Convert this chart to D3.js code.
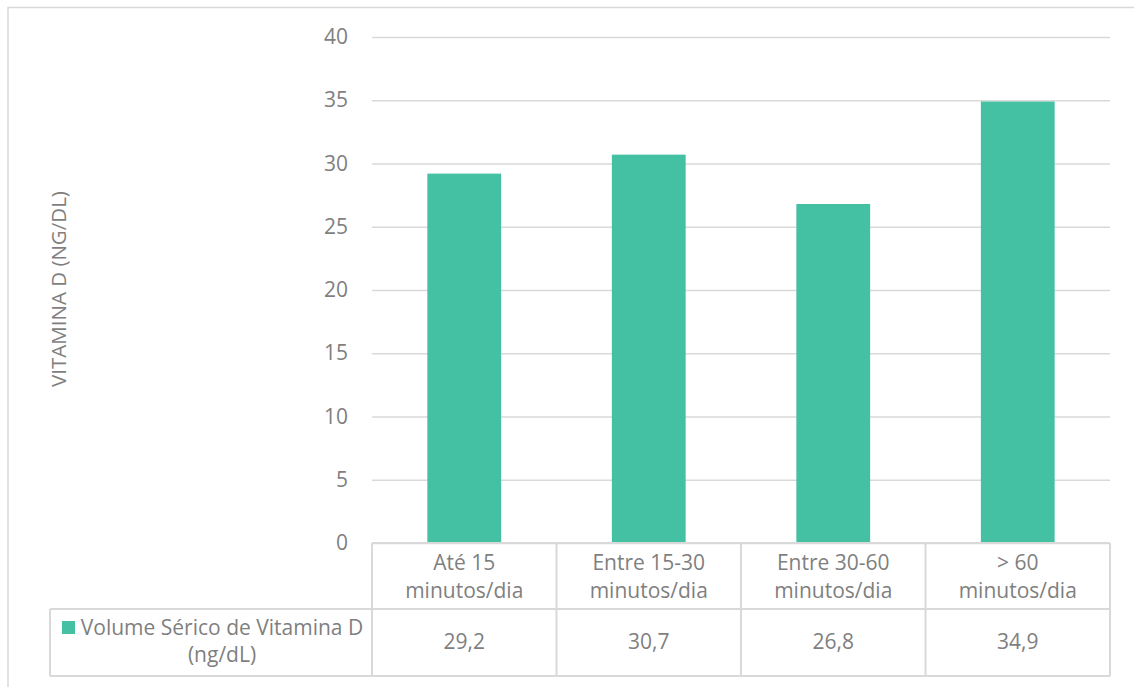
<!DOCTYPE html>
<html><head><meta charset="utf-8">
<script src="https://cdn.jsdelivr.net/npm/d3@7"></script>
<style>body{margin:0;background:#fff}svg{display:block}text{font-family:"Open Sans",sans-serif;fill:#7f7f7f}</style>
</head><body>
<svg id="c" width="1134" height="687"></svg>
<script>
const categories = [["Até 15","minutos/dia"],["Entre 15-30","minutos/dia"],["Entre 30-60","minutos/dia"],["> 60","minutos/dia"]];
const values = [29.2, 30.7, 26.8, 34.9];
const valueLabels = ["29,2","30,7","26,8","34,9"];
const yTicks = [0,5,10,15,20,25,30,35,40];
const seriesName = ["Volume Sérico de Vitamina D","(ng/dL)"];
const yTitle = "VITAMINA D (NG/DL)";

const svg = d3.select("#c");
const color = "#43c1a2", grid = "#d9d9d9";
const L = 372, R = 1110, T = 37, B = 543;
const rowH1 = 66, rowH2 = 67, legL = 50;
const fs = 21;

svg.append("rect").attr("x",8).attr("y",7.5).attr("width",1140).attr("height",700)
  .attr("fill","none").attr("stroke",grid).attr("stroke-width",1.5);

const x = d3.scaleBand().domain(d3.range(categories.length)).range([L,R]).paddingInner(0.6).paddingOuter(0.3);
const y = d3.scaleLinear().domain([0,40]).range([B,T]);

const ax = svg.append("g").attr("transform",`translate(${L},0)`)
  .call(d3.axisLeft(y).tickValues(yTicks).tickSize(-(R-L)).tickPadding(0));
ax.attr("font-size",null).attr("font-family",null);
ax.select(".domain").remove();
ax.selectAll(".tick line").attr("stroke",grid).attr("stroke-width",1.5);
ax.selectAll(".tick text").attr("x",-24).attr("style",`font-size:${fs}px`).attr("fill","#7f7f7f");

svg.append("g").selectAll("rect").data(values).join("rect")
  .attr("x",(d,i)=>x(i)).attr("width",x.bandwidth())
  .attr("y",d=>y(d)).attr("height",d=>y(0)-y(d)).attr("fill",color);

const colW = (R-L)/categories.length;
const tg = svg.append("g").attr("stroke",grid).attr("stroke-width",2).attr("fill","none");
tg.append("line").attr("x1",L).attr("x2",R).attr("y1",B).attr("y2",B);
tg.append("line").attr("x1",legL).attr("x2",R).attr("y1",B+rowH1).attr("y2",B+rowH1);
tg.append("line").attr("x1",legL).attr("x2",R).attr("y1",B+rowH1+rowH2).attr("y2",B+rowH1+rowH2);
tg.append("line").attr("x1",legL).attr("x2",legL).attr("y1",B+rowH1).attr("y2",B+rowH1+rowH2);
for(let i=0;i<=categories.length;i++){
  const xx = L+i*colW;
  tg.append("line").attr("x1",xx).attr("x2",xx).attr("y1",B).attr("y2",B+rowH1+rowH2);
}
categories.forEach((c,i)=>{
  const cx = x(i)+x.bandwidth()/2;
  const t = svg.append("text").attr("text-anchor","middle").attr("style",`font-size:${fs}px`);
  t.append("tspan").attr("x",cx).attr("y",B+27).text(c[0]);
  t.append("tspan").attr("x",cx).attr("y",B+55).text(c[1]);
  svg.append("text").attr("text-anchor","middle").attr("style",`font-size:${fs}px`)
    .attr("x",cx).attr("y",B+rowH1+40).text(valueLabels[i]);
});
svg.append("rect").attr("x",62).attr("y",B+rowH1+12).attr("width",13).attr("height",13).attr("fill",color);
const lt = svg.append("text").attr("style",`font-size:${fs}px`).attr("text-anchor","middle");
lt.append("tspan").attr("x",222).attr("y",B+rowH1+26).text(seriesName[0]);
lt.append("tspan").attr("x",222).attr("y",B+rowH1+53).text(seriesName[1]);

svg.append("text").attr("style","font-size:20.5px").attr("text-anchor","middle")
  .attr("transform","translate(66,289) rotate(-90)").text(yTitle);
</script>
</body></html>
